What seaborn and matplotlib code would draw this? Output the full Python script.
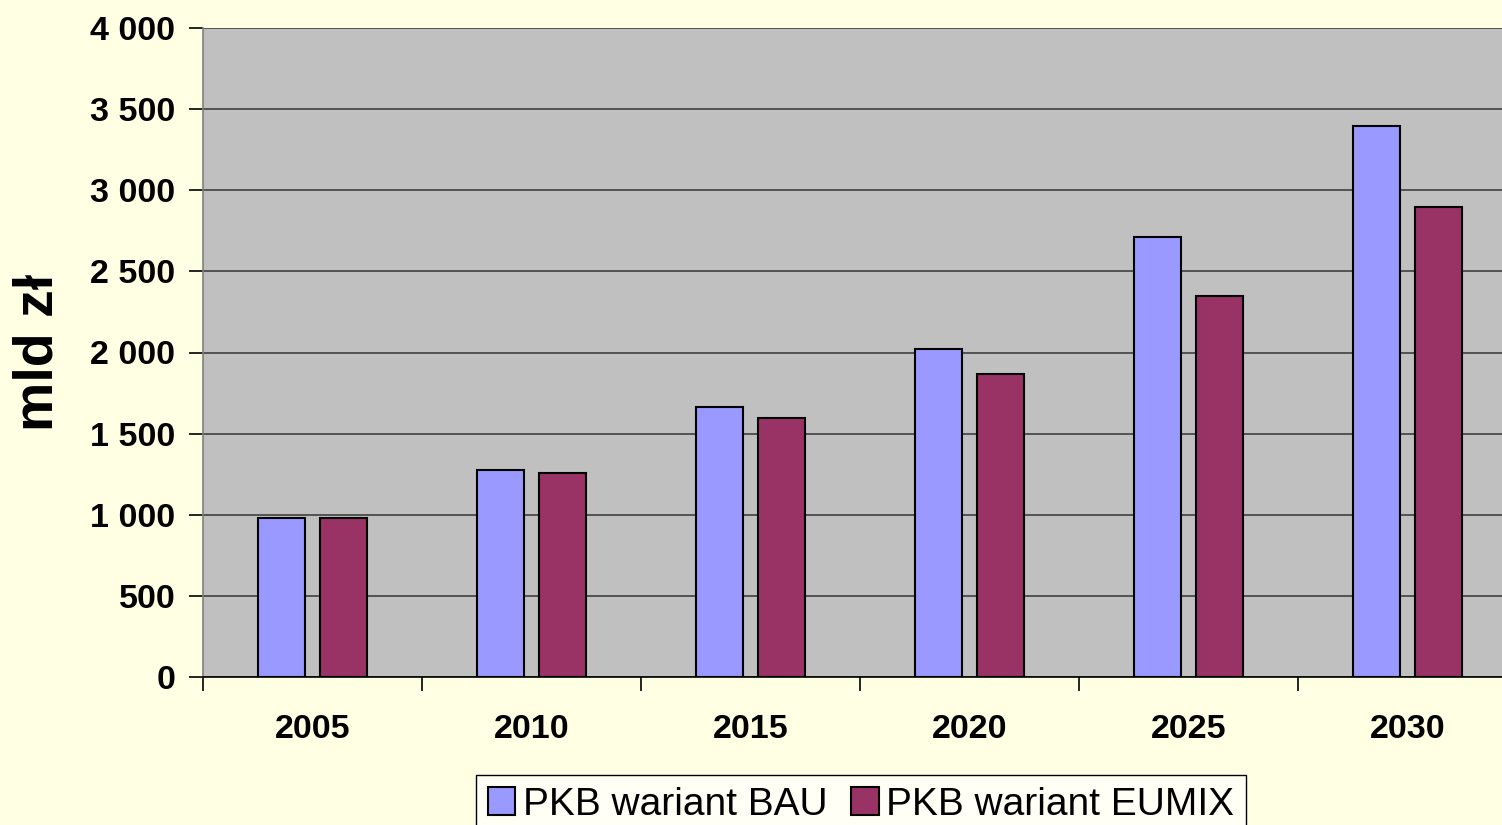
import matplotlib
matplotlib.use("Agg")
import matplotlib.pyplot as plt
from matplotlib.ticker import FuncFormatter, FixedLocator
import seaborn as sns
import pandas as pd
import numpy as np

# ─── Data ─────────────────────────────────────────────────────────────────────
YEARS       = ["2005", "2010", "2015", "2020", "2025", "2030"]
BAU         = [980, 1276, 1664, 2022, 2712, 3396]
EUMIX       = [980, 1257, 1596, 1867, 2348, 2897]
SERIES      = ["PKB wariant BAU", "PKB wariant EUMIX"]
COLORS      = ["#9999FF", "#993366"]

df = pd.DataFrame({
    "rok":   YEARS * 2,
    "wartosc": BAU + EUMIX,
    "seria": [SERIES[0]] * len(YEARS) + [SERIES[1]] * len(YEARS),
})

# ─── Style ────────────────────────────────────────────────────────────────────
sns.set_style("white")
plt.rcParams["font.family"] = ["Liberation Sans", "DejaVu Sans"]
plt.rcParams["text.color"] = "black"
plt.rcParams["xtick.color"] = "black"
plt.rcParams["ytick.color"] = "black"
plt.rcParams["axes.labelcolor"] = "black"

BG = "#FFFFE3"
fig = plt.figure(figsize=(15.02, 8.25), dpi=100, facecolor=BG)
# the plot area runs past the right edge of the figure, as in the original
ax = fig.add_axes([203 / 1502, 1 - 677 / 825, 1314 / 1502, (677 - 28) / 825])
ax.set_facecolor("#C0C0C0")

sns.barplot(
    data=df, x="rok", y="wartosc", hue="seria",
    palette=COLORS, width=0.566, gap=0.24,
    edgecolor="black", linewidth=1.5, saturation=1,
    ax=ax, zorder=3,
)

# ─── Axes ─────────────────────────────────────────────────────────────────────
ax.set_xlim(-0.5, len(YEARS) - 0.5)
ax.set_ylim(0, 4000)
ax.set_yticks(np.arange(0, 4001, 500))
ax.yaxis.set_major_formatter(FuncFormatter(lambda v, p: f"{int(v):,}".replace(",", " ")))
ax.grid(axis="y", color="#404040", linewidth=1.2, zorder=0)
ax.set_axisbelow(True)

for s in ["top", "right"]:
    ax.spines[s].set_visible(False)
ax.spines["left"].set_color("#808080")
ax.spines["left"].set_linewidth(1.2)
ax.spines["bottom"].set_color("black")
ax.spines["bottom"].set_linewidth(1.2)

ax.tick_params(axis="y", which="major", left=True, length=10, width=1.2,
               color="black", pad=10, labelsize=24.5)
ax.tick_params(axis="x", which="major", bottom=False, length=0, pad=27, labelsize=24.5)
ax.xaxis.set_minor_locator(FixedLocator(np.arange(-0.5, len(YEARS), 1.0)))
ax.tick_params(axis="x", which="minor", bottom=True, length=10, width=1.2, color="black")
for lbl in ax.get_xticklabels() + ax.get_yticklabels():
    lbl.set_fontweight("bold")

ax.set_xlabel("")
ax.set_ylabel("mld zł", fontsize=40, fontweight="bold", labelpad=18)

# ─── Legend ───────────────────────────────────────────────────────────────────
handles, labels = ax.get_legend_handles_labels()
leg = fig.legend(
    handles, labels, loc="upper left", bbox_to_anchor=(476 / 1502, 1 - 775 / 825),
    ncol=2, fontsize=28, frameon=True, fancybox=False, edgecolor="black",
    facecolor="#FFFFF5", framealpha=1, handlelength=0.7, handleheight=0.7,
    handletextpad=0.2, columnspacing=0.62, borderpad=0.3, borderaxespad=0,
)
leg.get_frame().set_linewidth(1.0)
if ax.get_legend():
    ax.get_legend().remove()

fig.savefig("out.png", dpi=100, facecolor=BG)
